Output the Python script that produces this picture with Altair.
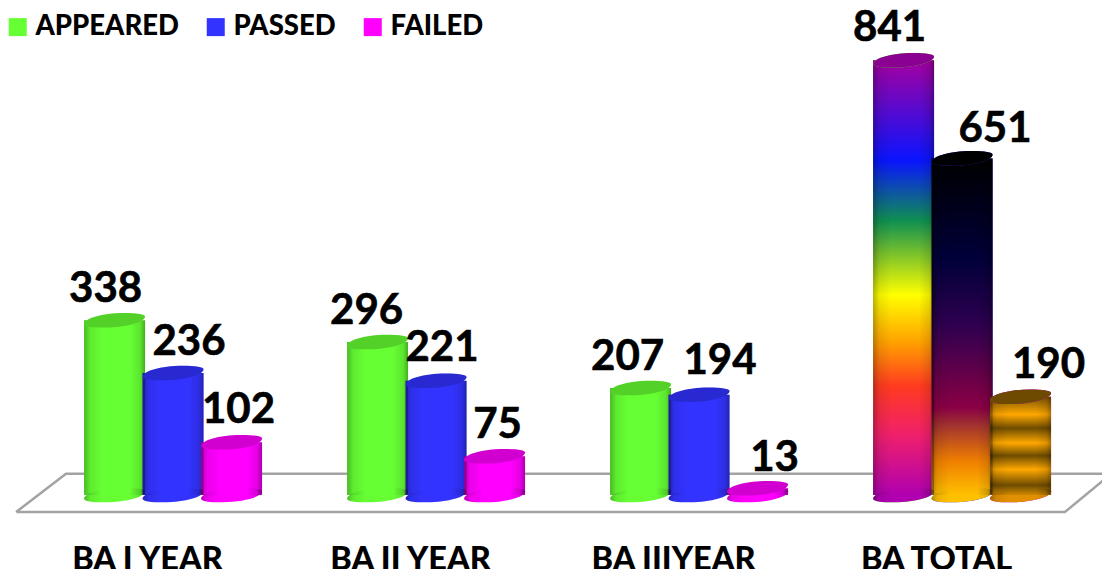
import json
import altair as alt
import pandas as pd

categories = ["BA I YEAR", "BA II YEAR", "BA IIIYEAR", "BA TOTAL"]
series_names = ["APPEARED", "PASSED", "FAILED"]
appeared = [338, 296, 207, 841]
passed = [236, 221, 194, 651]
failed = [102, 75, 13, 190]
series_colors = ["#66ff33", "#3333ff", "#ff00ff"]

floor_x = [-0.597, -0.407, 3.567, 3.391, -0.597]
floor_y = [-33, 41, 41, -33, -33]

# pixel nudges of the value labels away from their cylinders
nudges = [
    [(-9, -31), (16, -31), (7, -32)],
    [(-11, -31), (6, -33), (3, -31)],
    [(-13, -31), (21, -34), (17, -30)],
    [(-14, -32), (33, -29), (28, -32)],
]

rows = []
for i, cat in enumerate(categories):
    for j, (name, vals) in enumerate(zip(series_names, [appeared, passed, failed])):
        rows.append({"cat": cat, "series": name, "value": vals[i],
                     "xpos": i + (j - 1) * 0.2224, "i": i, "j": j})
df = pd.DataFrame(rows)
floor = pd.DataFrame({"x": floor_x, "y": floor_y, "o": range(len(floor_x))})

x_scale = alt.Scale(domain=[-0.6276, 3.5321], nice=False, zero=False, padding=0)
y_scale = alt.Scale(domain=[-67.7, 942], nice=False, zero=False, padding=0)
label_expr = json.dumps(categories) + "[datum.value]"
x_axis = alt.Axis(
    values=[0, 1, 2, 3], labelExpr=label_expr, title=None, domain=False, ticks=False, grid=False,
    labelFont="Lato", labelFontWeight=900, labelFontSize=32.5, labelColor="#000000",
    labelPadding=13, labelOffset=-26, labelOverlap=False, labelFlush=False)
X = alt.X("xpos:Q", scale=x_scale, axis=x_axis)
Y = alt.Y("value:Q", scale=y_scale, axis=None, stack=None)
color = alt.Color("series:N", scale=alt.Scale(domain=series_names, range=series_colors),
                  sort=series_names,
                  legend=alt.Legend(title=None, orient="none", legendX=-4, legendY=5,
                                    direction="horizontal", columns=3, columnPadding=23,
                                    symbolType="square", symbolSize=324, symbolStrokeWidth=0,
                                    labelFont="Lato", labelFontWeight=900, labelFontSize=27.5,
                                    labelColor="#000000", labelOffset=4, gridAlign="each"))

CAP = ("M-1,0.12 C-1,-0.06 -0.4,-0.24 0.3,-0.24 C0.75,-0.24 1,-0.2 1,-0.12 "
       "C1,0.06 0.4,0.24 -0.3,0.24 C-0.75,0.24 -1,0.2 -1,0.12 Z")
BAR = 61
SIZE = BAR * BAR


def grad(stops, horizontal=False):
    return {"gradient": "linear", "x1": 0, "y1": 0,
            "x2": 1 if horizontal else 0, "y2": 0 if horizontal else 1,
            "stops": [{"offset": o, "color": c} for o, c in stops]}


shade = grad([(0, "rgba(0,0,0,0.28)"), (0.1, "rgba(0,0,0,0.08)"), (0.3, "rgba(0,0,0,0)"),
              (0.75, "rgba(0,0,0,0)"), (0.92, "rgba(0,0,0,0.1)"), (1, "rgba(0,0,0,0.32)")], True)

totals = {
    "APPEARED": (grad([(0, "#a500a0"), (0.23, "#0a14ff"), (0.37, "#109050"), (0.54, "#ffff00"),
                       (0.65, "#ffa000"), (0.75, "#ff3a20"), (0.86, "#f0206a"), (1, "#b000b0")]),
                 "#8a0090", "#b000b0"),
    "PASSED": (grad([(0, "#000000"), (0.3, "#00003a"), (0.5, "#300050"), (0.74, "#8a0045"),
                     (0.79, "#a03030"), (0.9, "#f08000"), (1, "#ffc000")]),
               "#000000", "#ffc000"),
    "FAILED": (grad([(0, "#7a5200"), (0.18, "#ffa800"), (0.32, "#6e4c00"), (0.47, "#ffa800"),
                     (0.60, "#6e4c00"), (0.74, "#ffa800"), (0.90, "#6e4c00"), (1, "#d08800")]),
               "#6e4a00", "#e09000"),
}

base = alt.Chart(df).encode(x=X, y=Y)
y_zero = alt.Y("y0:Q", scale=y_scale, axis=None)
layers = [
    alt.Chart(floor).mark_line(color="#a3a3a3", strokeWidth=2.5, strokeJoin="miter", clip=False).encode(
        x=alt.X("x:Q", scale=x_scale, axis=x_axis), y=alt.Y("y:Q", scale=y_scale, axis=None), order="o:Q"),
]
# bottoms of every cylinder
layers.append(base.mark_point(shape=CAP, size=SIZE, filled=True, opacity=1).encode(
    y=y_zero, color=color).transform_calculate(y0="0"))
# bodies
layers.append(base.mark_bar(size=BAR, orient="vertical").encode(color=color))
# the TOTAL group has its own colours
for name, (g, cap, bottom) in totals.items():
    sel = df[(df.i == 3) & (df.series == name)]
    b2 = alt.Chart(sel).encode(x=X, y=Y)
    layers.append(b2.mark_point(shape=CAP, size=SIZE, filled=True, opacity=1, color=bottom).encode(
        y=y_zero).transform_calculate(y0="0"))
    layers.append(b2.mark_bar(size=BAR, orient="vertical", color=g))
# cylinder shading
layers.append(base.mark_point(shape=CAP, size=SIZE, filled=True, opacity=1, color=shade).encode(
    y=y_zero).transform_calculate(y0="0"))
layers.append(base.mark_bar(size=BAR, orient="vertical", color=shade))
# caps
layers.append(base.mark_point(shape=CAP, size=SIZE, filled=True, opacity=1).encode(color=color))
layers.append(base.mark_point(shape=CAP, size=SIZE, filled=True, opacity=0.18, color="#000000"))
for name, (g, cap, bottom) in totals.items():
    sel = df[(df.i == 3) & (df.series == name)]
    layers.append(alt.Chart(sel).mark_point(shape=CAP, size=SIZE, filled=True, opacity=1, color=cap)
                  .encode(x=X, y=Y))
# value labels
for i in range(len(categories)):
    for j, name in enumerate(series_names):
        sel = df[(df.i == i) & (df.j == j)]
        dx, dy = nudges[i][j]
        layers.append(alt.Chart(sel).mark_text(
            font="Lato", fontWeight="bold", fontSize=42, color="#000000",
            stroke="#000000", strokeWidth=0.6,
            dx=dx, dy=dy, baseline="middle", align="center").encode(x=X, y=Y, text="value:Q"))

chart = alt.layer(*layers).properties(
    width=1094, height=522,
    padding={"left": 0, "top": 0, "right": 0, "bottom": 39},
    autosize=alt.AutoSizeParams(type="none"),
    background="#ffffff",
).configure_view(stroke=None)

chart.save("out.html", embed_options={"renderer": "svg", "actions": False})
